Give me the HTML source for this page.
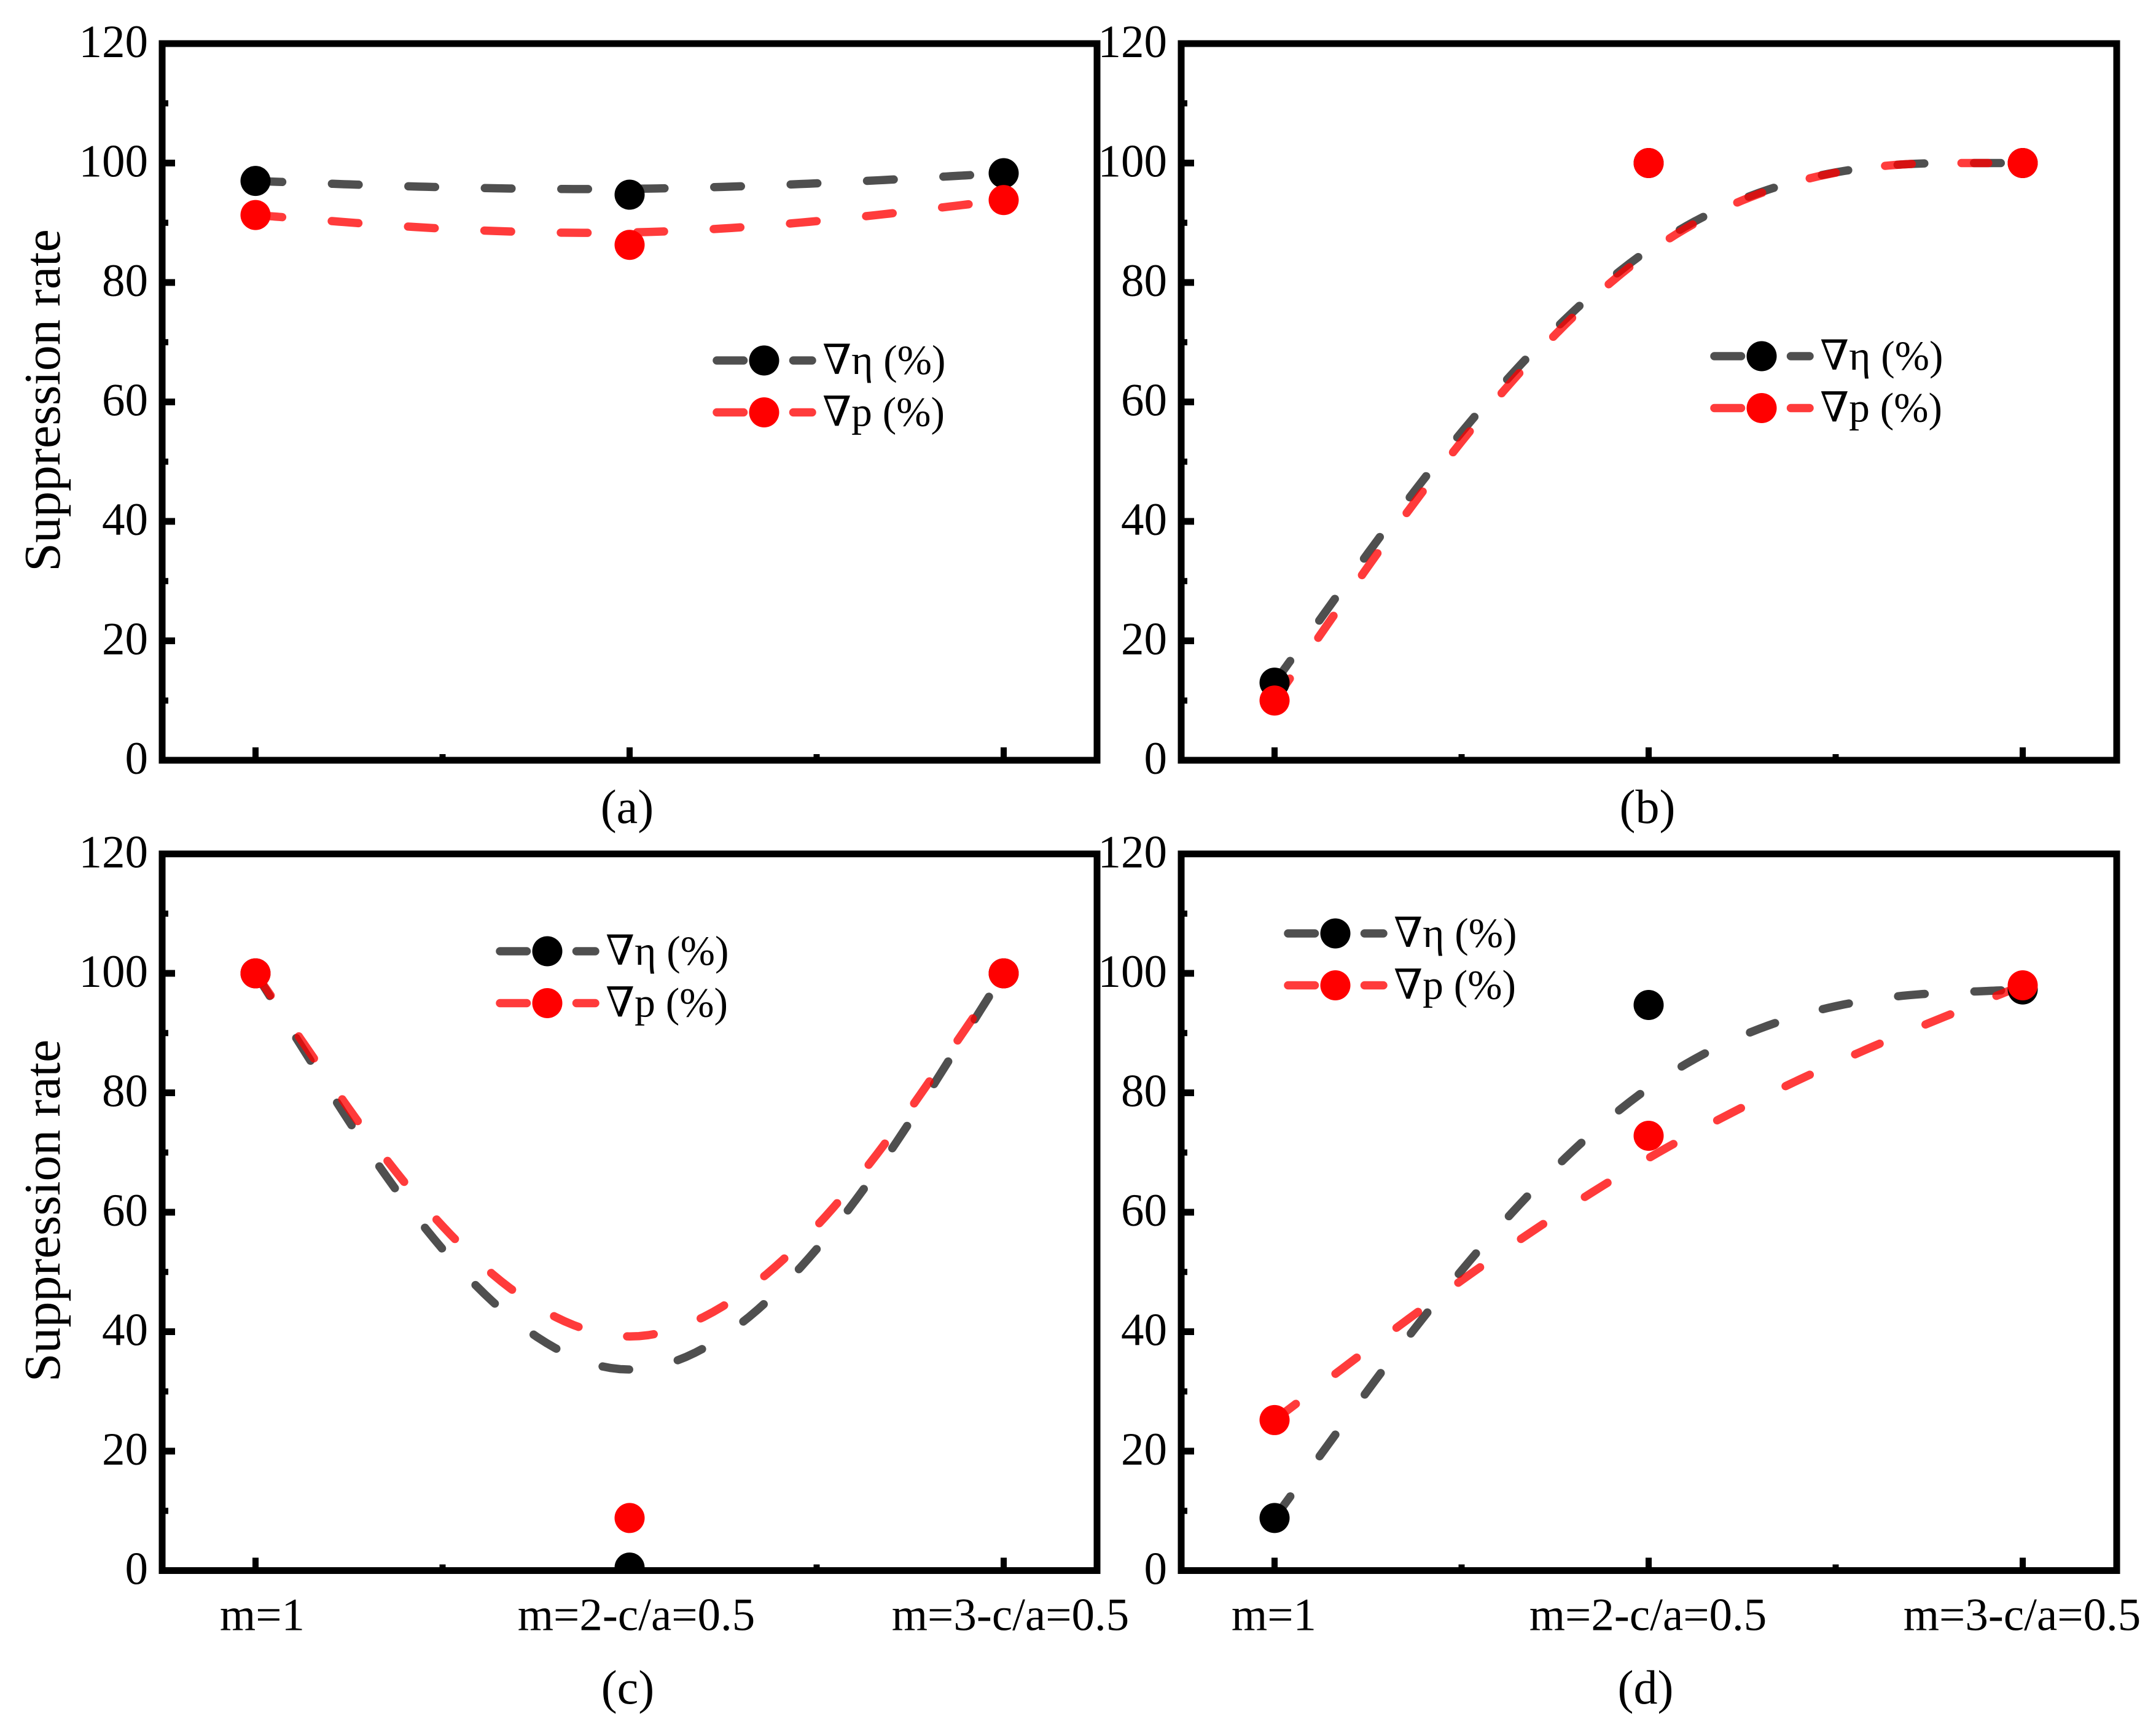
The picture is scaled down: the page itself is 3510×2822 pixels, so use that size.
<!DOCTYPE html>
<html lang="en">
<head>
<meta charset="utf-8">
<title>Suppression rate panels</title>
<style>
html,body{margin:0;padding:0;background:#fff}
svg{display:block}
text{font-family:"Liberation Serif","DejaVu Serif",serif;fill:#000}
</style>
</head>
<body>
<svg id="figure" xmlns="http://www.w3.org/2000/svg" width="3510" height="2822" viewBox="0 0 3510 2822"></svg>
<script>
const categories = ['m=1', 'm=2-c/a=0.5', 'm=3-c/a=0.5'];
const yTickLabels = [0, 20, 40, 60, 80, 100, 120];
const yMinorTicks = [10, 30, 50, 70, 90, 110];
const seriesNames = ['∇η (%)', '∇p (%)'];
const etaA = [97, 94.7, 98.3];
const pA = [91.3, 86.3, 93.8];
const etaB = [13, 100, 100];
const pB = [10, 100, 100];
const etaC = [100, 0.5, 100];
const pC = [100, 8.8, 100];
const etaD = [8.8, 94.7, 97.3];
const pD = [25.2, 72.8, 98];
const yAxisTitle = 'Suppression rate';

const NS = 'http://www.w3.org/2000/svg';
const svg = document.getElementById('figure');
const Y_UNIT = 194.5 / 20;
const X_STEP = 609;
const X_PAD = 152;
const COLORS = ['#000000', '#ff0000'];

const panels = [
  {id:'a', left:264,  right:1786, top:71,     eta:etaA, p:pA, legendX:1244, legendY:587,  caption:'(a)', capX:1021, capY:1340, showX:false, labelShift:0,  title:true},
  {id:'b', left:1923, right:3446, top:71,     eta:etaB, p:pB, legendX:2868, legendY:580,  caption:'(b)', capX:2682, capY:1340, showX:false, labelShift:0,  title:false},
  {id:'c', left:264,  right:1786, top:1390.5, eta:etaC, p:pC, legendX:891,  legendY:1549, caption:'(c)', capX:1022, capY:2774, showX:true,  labelShift:11, title:true},
  {id:'d', left:1923, right:3446, top:1390.5, eta:etaD, p:pD, legendX:2174, legendY:1520, caption:'(d)', capX:2679, capY:2774, showX:true,  labelShift:-1, title:false}
];

function make(tag, attrs, parent) {
  const el = document.createElementNS(NS, tag);
  for (const k in attrs) el.setAttribute(k, attrs[k]);
  parent.appendChild(el);
  return el;
}

function xScale(panel, i) { return panel.left + X_PAD + i * X_STEP; }
function yScale(panel, v) { return panel.top + 1167 - v * Y_UNIT; }

/* Origin-style cubic B-spline through clamped control values */
function splinePath(panel, values) {
  const n = values.length;
  const ctrl = [];
  for (let k = 0; k < 2; k++) ctrl.push([0, values[0]]);
  values.forEach(function (v, i) { ctrl.push([i, v]); });
  for (let k = 0; k < 2; k++) ctrl.push([n - 1, values[n - 1]]);
  let d = '';
  for (let s = 0; s + 3 < ctrl.length; s++) {
    for (let j = 0; j <= 40; j++) {
      if (s > 0 && j === 0) continue;
      const t = j / 40, u = 1 - t;
      const b0 = u * u * u / 6;
      const b1 = (3 * t * t * t - 6 * t * t + 4) / 6;
      const b2 = (-3 * t * t * t + 3 * t * t + 3 * t + 1) / 6;
      const b3 = t * t * t / 6;
      const cx = b0 * ctrl[s][0] + b1 * ctrl[s + 1][0] + b2 * ctrl[s + 2][0] + b3 * ctrl[s + 3][0];
      const cy = b0 * ctrl[s][1] + b1 * ctrl[s + 1][1] + b2 * ctrl[s + 2][1] + b3 * ctrl[s + 3][1];
      d += (d ? 'L' : 'M') + xScale(panel, cx).toFixed(2) + ' ' + yScale(panel, cy).toFixed(2);
    }
  }
  return d;
}

function drawPanel(panel) {
  const g = make('g', {}, svg);
  
  
  const bottom = panel.top + 1167;

  /* plot-area clip so marks stop at the axis frame */
  const clip = make('clipPath', {id: 'plot-clip-' + panel.id}, g);
  make('rect', {x: panel.left, y: panel.top, width: panel.right - panel.left, height: 1167}, clip);

  /* y ticks */
  yTickLabels.forEach(function (v) {
    const y = yScale(panel, v);
    const tick = make('line', {x1: panel.left, x2: panel.left + 21, y1: y, y2: y, stroke: '#000', 'stroke-width': 11}, g);
    
    
    const label = make('text', {x: panel.left - 23, y: y + 22, 'text-anchor': 'end', 'font-size': 75}, g);
    
    
    label.textContent = v;
  });
  yMinorTicks.forEach(function (v) {
    const y = yScale(panel, v);
    const tick = make('line', {x1: panel.left, x2: panel.left + 10, y1: y, y2: y, stroke: '#000', 'stroke-width': 10}, g);
    
    
  });

  /* x ticks */
  categories.forEach(function (c, i) {
    const x = xScale(panel, i);
    const tick = make('line', {x1: x, x2: x, y1: bottom, y2: bottom - 21, stroke: '#000', 'stroke-width': 10}, g);
    
    
    if (i < categories.length - 1) {
      const mx = xScale(panel, i + 0.5);
      const minor = make('line', {x1: mx, x2: mx, y1: bottom, y2: bottom - 10, stroke: '#000', 'stroke-width': 10}, g);
      
      
    }
    if (panel.showX) {
      const label = make('text', {x: x + panel.labelShift, y: bottom + 97, 'text-anchor': 'middle', 'font-size': 75}, g);
      
      
      label.textContent = c;
    }
  });

  const marks = make('g', {'clip-path': 'url(#plot-clip-' + panel.id + ')'}, g);
  
  

  /* series lines */
  [panel.eta, panel.p].forEach(function (values, s) {
    const line = make('path', {d: splinePath(panel, values), fill: 'none', stroke: COLORS[s], 'stroke-opacity': s ? 0.77 : 0.69, 'stroke-width': 13.5, 'stroke-linecap': 'round', 'stroke-linejoin': 'round', 'stroke-dasharray': '43.5 81'}, marks);
    
    
  });

  /* series markers */
  [panel.eta, panel.p].forEach(function (values, s) {
    values.forEach(function (v, i) {
      const dot = make('circle', {cx: xScale(panel, i), cy: yScale(panel, v), r: 24.5, fill: COLORS[s]}, marks);
      
      
    });
  });

  /* frame */
  const frame = make('rect', {x: panel.left, y: panel.top, width: panel.right - panel.left, height: 1167, fill: 'none', stroke: '#000', 'stroke-width': 11}, g);
  
  

  /* legend */
  seriesNames.forEach(function (name, s) {
    const ly = panel.legendY + s * 84.5;
    const lx = panel.legendX;
    const key = make('line', {x1: lx - 77, x2: lx + 78, y1: ly, y2: ly, stroke: COLORS[s], 'stroke-opacity': s ? 0.77 : 0.69, 'stroke-width': 13.5, 'stroke-linecap': 'round', 'stroke-dasharray': '43.5 81'}, g);
    
    
    const dot = make('circle', {cx: lx, cy: ly, r: 24.5, fill: COLORS[s]}, g);
    
    
    const label = make('text', {x: lx + 95, y: ly + 22, 'font-size': 67.5}, g);
    
    
    label.textContent = name;
  });

  /* y axis title */
  if (panel.title) {
    const cy = panel.top + 581;
    const title = make('text', {x: 0, y: 0, transform: 'translate(97 ' + cy + ') rotate(-90)', 'text-anchor': 'middle', 'font-size': 84}, g);
    
    
    title.textContent = yAxisTitle;
  }

  /* caption */
  const cap = make('text', {x: panel.capX, y: panel.capY, 'text-anchor': 'middle', 'font-size': 78}, g);
  
  
  cap.textContent = panel.caption;
}

panels.forEach(drawPanel);
</script>
</body>
</html>
